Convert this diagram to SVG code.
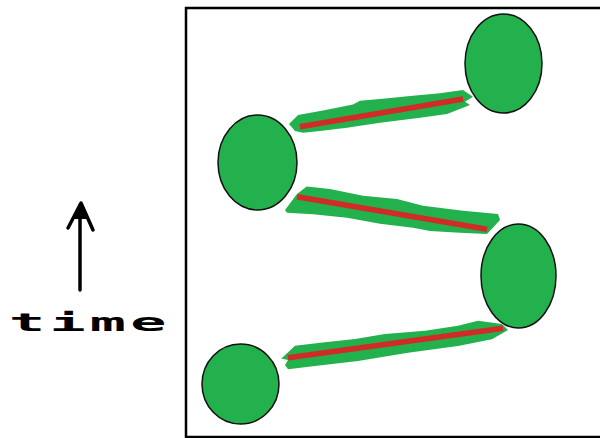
<svg xmlns="http://www.w3.org/2000/svg" width="600" height="438" viewBox="0 0 600 438">
  <style>
    .node { fill: #22b14c; stroke: #111; stroke-width: 1.5; }
    .band { fill: #22b14c; }
    .red { fill: none; stroke: #d02b26; stroke-width: 5.5; stroke-linecap: butt; }
    .frame { fill: none; stroke: #000; stroke-width: 2.5; }
    .arrow { fill: none; stroke: #000; stroke-width: 3.5; stroke-linejoin: round; stroke-linecap: round; }
    .label { font-family: "DejaVu Sans Mono", "Liberation Mono", monospace; font-weight: bold; font-size: 25px; fill: #000; }
  </style>
  <rect width="600" height="438" fill="#fff"/>
  <rect class="frame" x="186" y="8" width="440" height="429"/>

  <g id="time-axis">
    <line class="arrow" x1="80" y1="290" x2="80" y2="206"/>
    <polyline class="arrow" points="68,228 81,203 93,230"/>
    <polygon points="74,219 81,202 88,219" fill="#000"/>
    <text class="label" transform="translate(9,331) scale(2.4,1)" letter-spacing="1.8">time</text>
  </g>

  <g id="connectors">
    <g id="link-top">
      <polygon class="band" points="289,124 298,115 323,110.5 353,104.5 360,100.7 380,99 413,95.7 440,93.3 463,90 473,96.7 465,101.7 470,105 447,114 420,117.7 380,122.7 347,127.7 320,131 303,132.7 295,131"/>
      <line class="red" x1="300" y1="126.7" x2="463" y2="99"/>
    </g>
    <g id="link-middle">
      <polygon class="band" points="306.7,186.5 330,189 363,195.7 397,199 423,205.7 463,210.7 498,214 500,220 487,234 460,232.7 430,231 413,227.7 380,223.7 347,217.7 313,214.3 287,212.7 285,210 297,194"/>
      <line class="red" x1="297" y1="196.7" x2="487" y2="229.3"/>
    </g>
    <g id="link-bottom">
      <polygon class="band" points="281.7,358.3 295,345.7 325,342.3 355,339 385,334 425,330.7 458,325.7 478,320.7 502,324 508,330 492,339.3 458,346 408,352.7 358,361 315,366 288,369.3 285,365 288,360 280,358.3"/>
      <line class="red" x1="288" y1="357.7" x2="503" y2="328.3"/>
    </g>
  </g>

  <g id="node-top-right"><ellipse class="node" cx="503.5" cy="63.5" rx="38.5" ry="49.5"/></g>
  <g id="node-mid-left"><ellipse class="node" cx="257.5" cy="162.5" rx="39.5" ry="47.5"/></g>
  <g id="node-mid-right"><ellipse class="node" cx="518.5" cy="276" rx="37.5" ry="52"/></g>
  <g id="node-bottom-left"><ellipse class="node" cx="240.5" cy="384" rx="38.5" ry="40"/></g>
</svg>
